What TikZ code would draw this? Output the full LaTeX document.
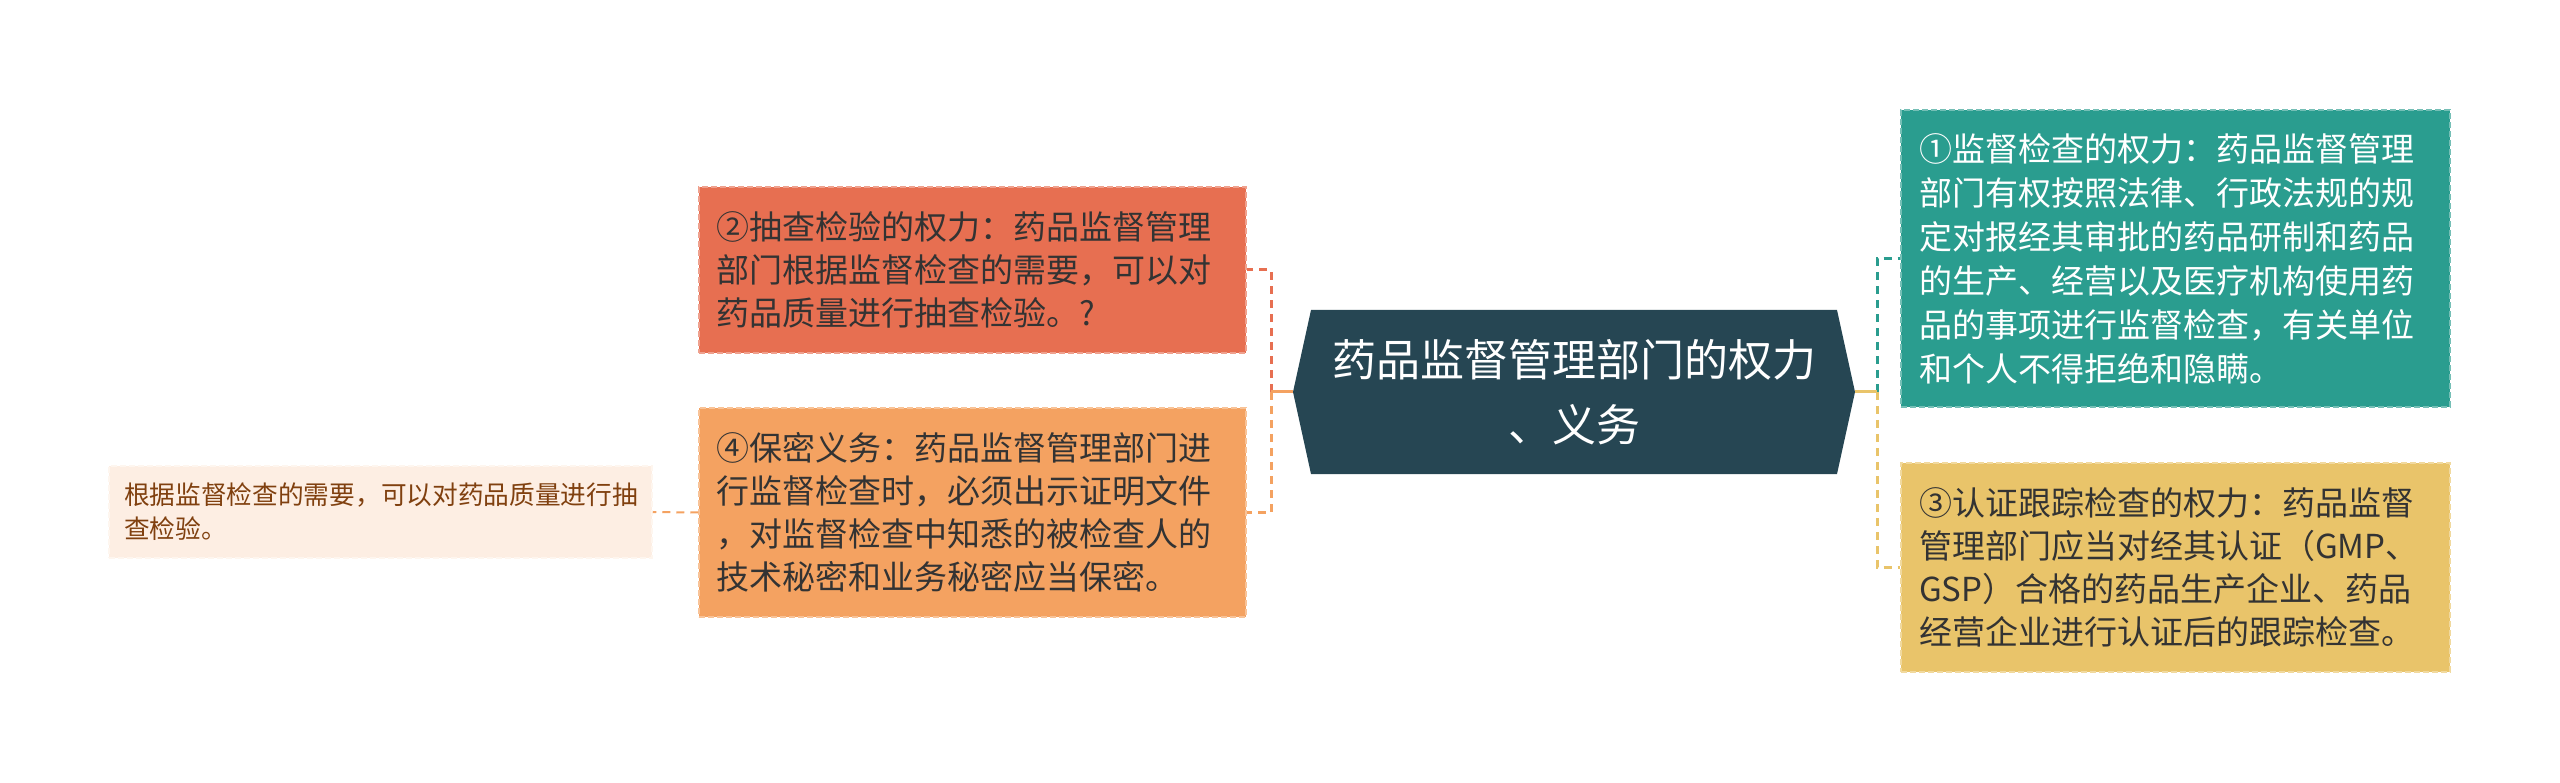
\documentclass[tikz,border=0pt]{standalone}
\usepackage{fontspec}
\setmainfont{Noto Sans CJK SC}
\definecolor{hexcol}{HTML}{264653}
\definecolor{tealc}{HTML}{2A9D8F}
\definecolor{yelc}{HTML}{E9C46A}
\definecolor{orc}{HTML}{F4A261}
\definecolor{redc}{HTML}{E76F51}
\definecolor{darktext}{HTML}{333333}
\definecolor{browntext}{HTML}{80400F}
\tikzset{
  boxbase/.style={rectangle, inner sep=0pt, align=left, text width=513pt,
    line width=1.5pt, dash pattern=on 6pt off 3pt,
    font=\fontsize{33}{43}\selectfont},
  conn/.style={line width=3pt, dash pattern=on 8pt off 6pt},
  stub/.style={line width=3pt},
}
\begin{document}
\begin{tikzpicture}[x=1pt,y=-1pt]
\useasboundingbox (0,0) rectangle (2560,783);

% root
\node[rectangle, inner sep=0pt, minimum width=562pt, minimum height=164pt,
  align=center, text=white, font=\fontsize{44}{65}\selectfont,
  path picture={\fill[hexcol] (path picture bounding box.west)
     -- ([xshift=18pt]path picture bounding box.north west)
     -- ([xshift=-18pt]path picture bounding box.north east)
     -- (path picture bounding box.east)
     -- ([xshift=-18pt]path picture bounding box.south east)
     -- ([xshift=18pt]path picture bounding box.south west) -- cycle;}]
  (root) at (1574,392) {药品监督管理部门的权力\\、义务};

% left boxes
\node[boxbase, fill=redc, draw=redc!65!white, text=darktext,
  minimum width=547pt, minimum height=166pt]
  (b2) at (972.5,270) {②抽查检验的权力：药品监督管理\\部门根据监督检查的需要，可以对\\药品质量进行抽查检验。?};
\node[boxbase, fill=orc, draw=orc!65!white, text=darktext,
  minimum width=547pt, minimum height=209pt]
  (b4) at (972.5,512.5) {④保密义务：药品监督管理部门进\\行监督检查时，必须出示证明文件\\，对监督检查中知悉的被检查人的\\技术秘密和业务秘密应当保密。};

% right boxes
\node[boxbase, fill=tealc, draw=tealc!65!white, text=white,
  font=\fontsize{33}{44}\selectfont,
  minimum width=549pt, minimum height=297pt]
  (b1) at (2175.5,258.5) {①监督检查的权力：药品监督管理\\部门有权按照法律、行政法规的规\\定对报经其审批的药品研制和药品\\的生产、经营以及医疗机构使用药\\品的事项进行监督检查，有关单位\\和个人不得拒绝和隐瞒。};
\node[boxbase, fill=yelc, draw=yelc!65!white, text=darktext,
  minimum width=549pt, minimum height=209pt]
  (b3) at (2175.5,567.5) {③认证跟踪检查的权力：药品监督\\管理部门应当对经其认证（GMP、\\GSP）合格的药品生产企业、药品\\经营企业进行认证后的跟踪检查。};

% small leaf
\node[boxbase, fill=orc!18!white, draw=orc!10!white, text=browntext,
  font=\fontsize{25.7}{34}\selectfont,
  minimum width=543pt, minimum height=92pt]
  (s) at (380.5,512) {根据监督检查的需要，可以对药品质量进行抽\\查检验。};

% connectors
\coordinate (jl) at (1271,392);
\coordinate (jr) at (1877,392);
\draw[conn, redc] (jl) |- (b2.east);
\draw[conn, orc] (jl) |- (b4.east);
\draw[stub, orc] (root.west) -- (jl);
\draw[conn, tealc] (jr) |- (b1.west);
\draw[conn, yelc] (jr) |- (b3.west);
\draw[stub, yelc] (root.east) -- (jr);
\draw[conn, orc, line width=2pt] (b4.west) -- (s.east);
\end{tikzpicture}
\end{document}
